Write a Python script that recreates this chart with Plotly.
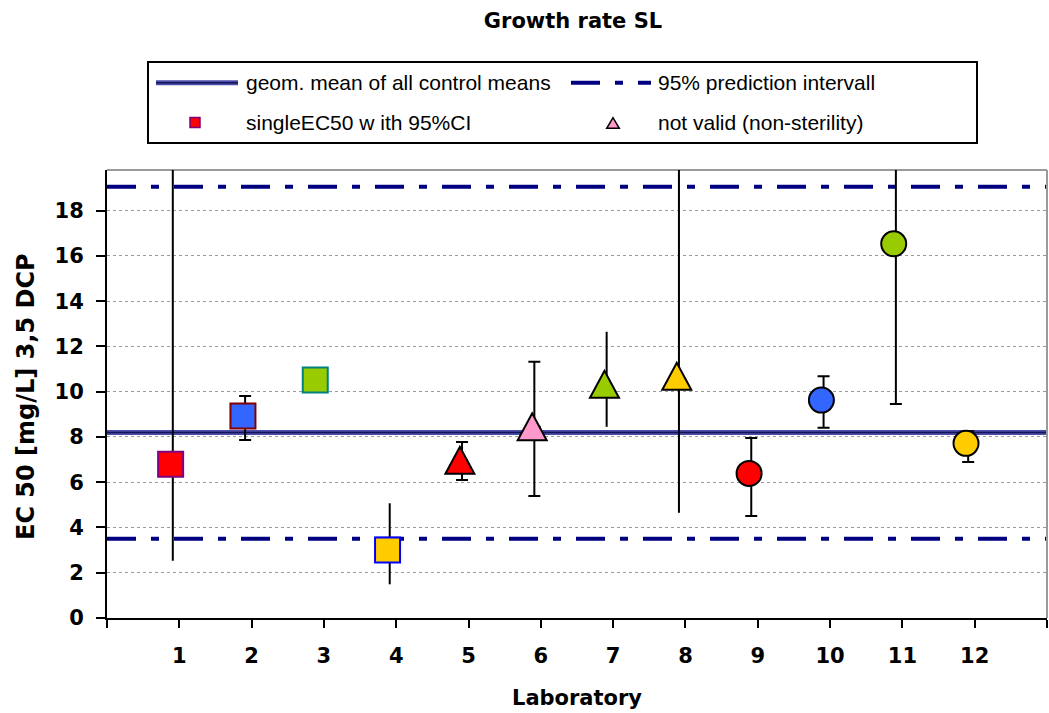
import plotly.graph_objects as go

# ---- data -------------------------------------------------------------
labs = [1, 2, 3, 4, 5, 6, 7, 8, 9, 10, 11, 12]
ec50 = [6.80, 8.93, 10.52, 3.00, 6.97, 8.45, 10.33, 10.68, 6.39, 9.63, 16.54, 7.72]
ci_low = [2.53, 7.87, None, 1.49, 6.10, 5.39, 8.45, 4.65, 4.51, 8.41, 9.46, 6.89]
ci_high = [20.33, 9.81, None, 5.07, 7.78, 11.33, 12.65, 20.46, 7.95, 10.69, 20.42, 8.25]

geo_mean = 8.20       # geometric mean of all control means
pi_lower = 3.50       # 95% prediction interval
pi_upper = 19.06

y_ticks = [0, 2, 4, 6, 8, 10, 12, 14, 16, 18]
x_tick_labels = [""] + [str(v) for v in labs] + [""]

# ---- styles -----------------------------------------------------------
symbols = ["square"] * 4 + ["triangle"] * 4 + ["circle"] * 4
fills = ["#FF0000", "#3366FF", "#99CC00", "#FFCC00",
         "#FF0000", "#FF99CC", "#99CC00", "#FFCC00",
         "#FF0000", "#3366FF", "#99CC00", "#FFCC00"]
edges = ["#800080", "#800000", "#008080", "#0000FF"] + ["#000000"] * 8
cap_low = [False, True, False, False, True, True, False, False, True, True, True, True]
cap_high = [False, True, False, False, True, True, False, False, True, True, False, True]

MARK_SHIFT = -0.12
BAR_SHIFT = -0.09
NAVY = "#000080"
DASHDOT = "29px,15px,8px,15px"
BOLD = dict(family="DejaVu Sans", size=21, color="black", weight="bold")
REG = dict(family="Liberation Sans, Arial", size=21, color="black")

W, H = 1049, 713
L, R, T, B = 107, 2, 170, 95
PW, PH = W - L - R, H - T - B


def px(xp):
    return (xp - L) / PW


def py(yp):
    return (H - B - yp) / PH


fig = go.Figure()

# error bars (lower and upper halves drawn separately so caps can differ)
for i, lab in enumerate(labs):
    if ci_low[i] is None:
        continue
    for part in ("low", "high"):
        if part == "low":
            err = dict(type="data", symmetric=False, array=[0],
                       arrayminus=[ec50[i] - ci_low[i]],
                       width=6 if cap_low[i] else 0)
        else:
            err = dict(type="data", symmetric=False, array=[ci_high[i] - ec50[i]],
                       arrayminus=[0], width=6 if cap_high[i] else 0)
        err.update(color="black", thickness=2, visible=True)
        fig.add_trace(go.Scatter(
            x=[lab + BAR_SHIFT], y=[ec50[i]], mode="markers",
            marker=dict(size=1, color="rgba(0,0,0,0)"),
            error_y=err, cliponaxis=False, showlegend=False, hoverinfo="skip"))

# squares and circles
for i, lab in enumerate(labs):
    if symbols[i] == "triangle":
        continue
    fig.add_trace(go.Scatter(
        x=[lab + MARK_SHIFT], y=[ec50[i]], mode="markers",
        marker=dict(symbol=symbols[i], size=25, color=fills[i],
                    line=dict(color=edges[i], width=2)),
        cliponaxis=False, showlegend=False,
        name=f"Lab {lab}"))

shapes = []

# reference lines
for val in (pi_lower, pi_upper):
    shapes.append(dict(type="line", xref="paper", x0=0, x1=1, yref="y", y0=val, y1=val,
                       line=dict(color=NAVY, width=4, dash=DASHDOT), layer="between"))
shapes.append(dict(type="line", xref="paper", x0=0, x1=1, yref="y", y0=geo_mean, y1=geo_mean,
                   line=dict(color="#4B4BA8", width=5), layer="between"))
shapes.append(dict(type="line", xref="paper", x0=0, x1=1, yref="y", y0=geo_mean, y1=geo_mean,
                   line=dict(color="#14145A", width=1.5), layer="between"))

# triangles (tall Excel-style triangle marker, anchored on the data point)
tri = "M-14.5,-13.5 L14.5,-13.5 L0,13.5 Z"
for i, lab in enumerate(labs):
    if symbols[i] != "triangle":
        continue
    shapes.append(dict(type="path", xref="x", yref="y",
                       xsizemode="pixel", ysizemode="pixel",
                       xanchor=lab + MARK_SHIFT, yanchor=ec50[i], path=tri,
                       fillcolor=fills[i], line=dict(color=edges[i], width=2),
                       layer="above"))

# plot-area frame on top and right
shapes.append(dict(type="line", xref="paper", yref="paper", x0=0, x1=1, y0=1, y1=1,
                   line=dict(color="#9A9A9A", width=2), layer="below"))
shapes.append(dict(type="line", xref="paper", yref="paper", x0=1, x1=1, y0=0, y1=1,
                   line=dict(color="#9A9A9A", width=2), layer="below"))

# legend box
shapes.append(dict(type="rect", xref="paper", yref="paper",
                   x0=px(148), x1=px(977), y0=py(143), y1=py(62),
                   line=dict(color="black", width=2), fillcolor="white", layer="above"))
row1, row2 = 82.7, 122.5
shapes.append(dict(type="line", xref="paper", yref="paper", x0=px(156), x1=px(238),
                   y0=py(row1), y1=py(row1), line=dict(color="#4B4BA8", width=5), layer="above"))
shapes.append(dict(type="line", xref="paper", yref="paper", x0=px(156), x1=px(238),
                   y0=py(row1), y1=py(row1), line=dict(color="#14145A", width=1.5), layer="above"))
shapes.append(dict(type="line", xref="paper", yref="paper", x0=px(571), x1=px(651),
                   y0=py(row1), y1=py(row1), line=dict(color=NAVY, width=4, dash=DASHDOT),
                   layer="above"))
shapes.append(dict(type="path", xref="paper", yref="paper", xsizemode="pixel", ysizemode="pixel",
                   xanchor=px(195), yanchor=py(row2), path="M-5,-5 L5,-5 L5,5 L-5,5 Z",
                   fillcolor="#FF0000", line=dict(color="#800080", width=1.5), layer="above"))
shapes.append(dict(type="path", xref="paper", yref="paper", xsizemode="pixel", ysizemode="pixel",
                   xanchor=px(613), yanchor=py(row2 + 0.5), path="M-6.3,-5.3 L6.3,-5.3 L0,5.3 Z",
                   fillcolor="#FF99CC", line=dict(color="black", width=1.5), layer="above"))

annotations = []
legend_items = [
    ("geom. mean of all control means", 245, row1),
    ("95% prediction intervall", 657, row1),
    ("singleEC50 w ith 95%CI", 245, row2),
    ("not valid (non-sterility)", 657, row2),
]
for text, xp, yp in legend_items:
    annotations.append(dict(text=text, xref="paper", yref="paper", x=px(xp), y=py(yp),
                            xanchor="left", yanchor="middle", showarrow=False,
                            font=REG, borderpad=0))

annotations.append(dict(text="EC 50 [mg/L] 3,5 DCP", textangle=-90,
                        xref="paper", yref="paper", x=px(26), y=py(397),
                        xanchor="center", yanchor="middle", showarrow=False,
                        font=dict(BOLD, size=24)))
annotations.append(dict(text="Laboratory", xref="paper", yref="paper",
                        x=px(577), y=py(698), xanchor="center", yanchor="middle",
                        showarrow=False, font=BOLD))

fig.update_layout(
    width=W, height=H,
    margin=dict(l=L, r=R, t=T, b=B),
    paper_bgcolor="white", plot_bgcolor="white",
    title=dict(text="Growth rate SL", x=573 / W, xanchor="center",
               y=1 - 21 / H, yanchor="middle", font=BOLD),
    showlegend=False,
    shapes=shapes,
    annotations=annotations,
    xaxis=dict(range=[0, 13], tickmode="array", tickvals=list(range(0, 14)),
               ticktext=x_tick_labels, ticks="outside", ticklen=8, tickwidth=2,
               tickcolor="black", showline=True, linecolor="black", linewidth=2,
               showgrid=False, zeroline=False, tickfont=BOLD,
               ticklabelstandoff=10),
    yaxis=dict(range=[0, 19.8], tickmode="array", tickvals=y_ticks,
               ticks="outside", ticklen=9, tickwidth=2, tickcolor="black",
               showline=True, linecolor="black", linewidth=2,
               showgrid=True, gridcolor="#9A9A9A", gridwidth=1, griddash="dot",
               zeroline=False, tickfont=BOLD, ticklabelstandoff=8),
)

fig.write_html("out.html")
